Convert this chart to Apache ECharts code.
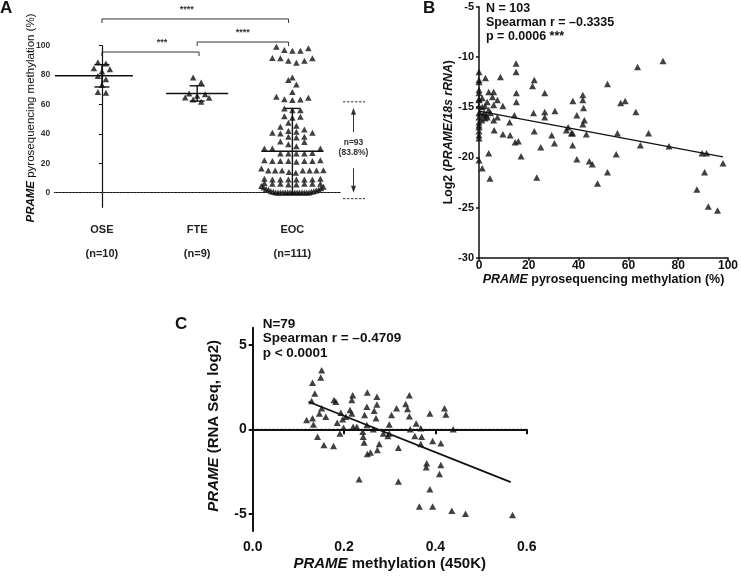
<!DOCTYPE html>
<html><head><meta charset="utf-8">
<script src="https://cdn.jsdelivr.net/npm/echarts@6/dist/echarts.min.js"></script>
<style>html,body{margin:0;padding:0;background:#fff}#c{width:741px;height:576px}</style>
</head><body><div id="c"></div>
<script>
// ---------- Panel A data ----------
const groups = ['OSE', 'FTE', 'EOC'];
const groupN = ['(n=10)', '(n=9)', '(n=111)'];
const oseValues = [87.8, 88.7, 83.9, 84.6, 82.5, 79.3, 77.1, 73.2, 67.9, 68.4];
const fteValues = [78.4, 75.0, 67.5, 65.9, 64.5, 64.8, 66.9, 61.8, 63.4];
const eocValues = [99.3, 98.2, 97, 96.6, 96.6,
  91.6, 91.4, 91.4, 89.8, 89.8, 88.4,
  78.4, 76.6, 73.6, 68.4, 65.2, 64.5, 63.6,
  63.4, 63, 57.3, 56, 56, 52, 51.6, 51, 47.5, 45.5, 44.8,
  43, 42, 41.4, 40.7, 40.7, 40.2, 38, 38, 37.5,
  34.8, 34.5, 33, 31.6, 30, 30, 30,
  27, 26.6, 26.6, 26.6, 26.6,
  22, 22, 21.6, 21.6, 21.6, 21.6, 21.6, 21,
  16.4, 15.2, 15, 15, 15, 15, 15, 15,
  14, 13.5,
  9.5, 9, 9, 9, 9, 9, 9, 9.5,
  6.5, 6, 6, 6, 6, 6, 5.5, 5.5,
  4.5, 4, 3.5, 3, 2.5, 2, 2, 1.5, 1, 1, 0.5, 0.5,
  0, 0, 0, 0, 0, 0, 0, 0, 0, 0, 0, 0, 0, 0, 0];
const groupMean = [79.5, 67.5, 28.2];
const groupSD = [7.6, 5.2, 29.1];
const yTicksA = [0, 20, 40, 60, 80, 100];
const bracketFrom = [0, 0, 1.0];
const bracketTo = [1.96, 1.02, 1.96];
const bracketLevel = [118.2, 95.7, 102.5];
const bracketTextX = [0.89, 0.63, 1.48];
const bracketStars = ['****', '***', '****'];
const annotRange = [61.8, -4.1];
const annotText = ['n=93', '(83.8%)'];

// ---------- Panel B data ----------
const bMeth = [14.9,14.9,63.7,73.9,51.6,22.2,21.5,26.4,15.0,15.0,
  37.7,41.7,41.7,42.0,42.3,41.7,39.3,56.9,58.7,63.0,
  21.9,26.4,26.4,30.5,22.2,35.8,35.1,37.1,37.6,29.2,
  43.1,55.6,68.1,30.3,37.6,64.8,76.3,24.8,16.9,39.3,
  55.1,44.3,45.5,51.6,23.2,47.6,89.6,91.4,98.0,90.6,
  87.5,92.1,95.8,
  0,0,2.6,0,0,0,0,0,0,0,
  0,0,0,0,1.3,3.9,4.4,3.9,5.4,5.9,
  7.4,8.6,9.6,5.9,7.4,5.9,6.1,9.6,12.5,12.3,
  14.2,14.5,15.8,1.3,2.4,3.3,3.9,1.7,2.4,1.1,
  3.0,1.3,4.6,2.1,0,0.4,3.3,0,0,0];
const bExpr = [-10.65,-11.5,-11.0,-10.4,-12.7,-12.3,-12.9,-13.6,-13.6,-14.5,
  -14.4,-13.8,-14.3,-15.1,-16.3,-16.7,-15.8,-14.6,-14.4,-15.5,
  -15.6,-15.5,-16.0,-15.4,-17.4,-17.0,-17.3,-17.6,-17.6,-17.8,
  -17.7,-17.6,-17.6,-18.6,-18.8,-18.8,-18.9,-19.0,-19.9,-20.2,
  -19.7,-20.4,-20.7,-21.5,-22.0,-22.6,-19.6,-19.6,-20.6,-21.5,
  -23.2,-24.9,-25.3,
  -11.5,-12.3,-12.1,-13.3,-13.6,-14.2,-14.9,-15.6,-16.0,-16.5,
  -17.0,-17.8,-18.1,-20.3,-21.1,-19.6,-22.1,-13.5,-14.0,-13.5,
  -14.3,-12.0,-14.9,-14.8,-16.0,-16.3,-17.3,-17.7,-17.8,-16.5,
  -15.8,-18.5,-18.4,-14.1,-14.9,-14.5,-15.3,-15.8,-16.1,-16.3,
  -15.8,-15.0,-15.6,-15.6,-17.4,-15.6,-16.0,-14.3,-16.8,-12.5];
const fitB = [[0, -15.4], [98, -19.95]];
const statsB = ['N = 103', 'Spearman r = \u20130.3335', 'p = 0.0006 ***'];

// ---------- Panel C data ----------
const cMeth = [0.118,0.131,0.131,0.129,0.136,0.133,0.149,0.151,0.142,0.146,
  0.151,0.160,0.156,0.177,0.178,0.182,0.185,0.191,0.193,0.197,
  0.199,0.204,0.213,0.217,0.219,0.217,0.220,0.228,0.241,0.242,
  0.244,0.245,0.250,0.251,0.250,0.251,0.258,0.264,0.266,0.272,
  0.272,0.270,0.273,0.277,0.233,0.286,0.296,0.299,0.304,0.299,
  0.315,0.319,0.319,0.335,0.339,0.343,0.343,0.345,0.358,0.355,
  0.368,0.370,0.368,0.365,0.388,0.394,0.394,0.380,0.381,0.388,
  0.409,0.412,0.412,0.420,0.423,0.439,0.436,0.466,0.569];
const cExpr = [0.55,0.65,2.75,1.67,2.12,0.29,3.06,3.49,-0.43,0.94,
  1.24,0.75,-0.92,-0.98,1.73,1.63,0.39,-0.24,0.98,0.59,
  0.10,0.75,1.14,0.94,2.02,1.73,0.16,0.16,-0.14,-0.43,
  -0.78,0.84,1.33,2.18,0.25,-1.45,-1.37,0.0,1.10,1.92,
  1.47,0.65,-1.22,-0.86,-2.94,-0.24,-0.39,0.29,0.84,-0.24,
  1.24,-1.08,-3.08,1.49,1.20,2.02,0.78,0.0,0.35,-0.39,
  0.06,-0.43,-0.86,-4.55,0.94,-0.69,-4.55,-2.24,-2.00,-3.53,
  -2.63,-2.10,-0.82,1.24,0.88,0.0,-4.80,-4.98,-5.06];
const fitC = [[0.122, 1.63], [0.565, -3.12]];
const statsC = ['N=79', 'Spearman r = \u20130.4709', 'p < 0.0001'];
const yTicksC = [-5, 0, 5];

// ---------- layout / style ----------
const FONT = '"Liberation Sans", Arial, Helvetica, sans-serif';
const INK = '#111';
const GA = {left: 54.3, top: 45.7, width: 285.7, height: 161.6};
const GB = {left: 479, top: 6.7, width: 252.7, height: 251};
const GC = {left: 252.7, top: 327.7, width: 274, height: 203.3};
const pxPerCat = GA.width / 3;
const MEAN_HALF = [[47, 31], [31, 31], [31, 31]];
const ROW_UNITS = 3.5, FLOOR_ROW_UNITS = 5, ROW_SPACING = 8, ROW_MAX = 62;

function swarm(vals, gi) {
  const s = vals.slice().sort((a, b) => a - b);
  const rows = []; let cur = [];
  for (const v of s) {
    const thr = (cur.length && cur[0] <= 0.5) ? FLOOR_ROW_UNITS : ROW_UNITS;
    if (cur.length && v - cur[0] >= thr) { rows.push(cur); cur = []; }
    cur.push(v);
  }
  if (cur.length) rows.push(cur);
  const out = [];
  for (const row of rows) {
    const n = row.length;
    const sp = n > 1 ? Math.min(ROW_SPACING, ROW_MAX / (n - 1)) : 0;
    const pos = [];
    for (let j = 0; j < n; j++) pos.push((j - (n - 1) / 2) * sp);
    const order = pos.map((p, j) => j).sort((a, b) => Math.abs(pos[a]) - Math.abs(pos[b]) || pos[b] - pos[a]);
    row.forEach((v, k) => out.push([gi + pos[order[k]] / pxPerCat, v]));
  }
  return out;
}
const swarmData = [].concat(swarm(oseValues, 0), swarm(fteValues, 1), swarm(eocValues, 2));

const zip = (a, b) => a.map((v, i) => [v, b[i]]);

function statText(lines, x, y0, dy, size) {
  return lines.map((t, i) => ({
    type: 'text', left: x, top: y0 + i * dy - size * 0.6,
    style: {text: t, font: 'bold ' + size + 'px ' + FONT, fill: INK}
  }));
}

const chart = echarts.init(document.getElementById('c'), null, {renderer: 'canvas'});
const axisLine = (w) => ({show: true, lineStyle: {color: INK, width: w}});
const richName = (size, bold) => ({
  fontFamily: FONT, fontSize: size, fontWeight: bold ? 'bold' : 'normal', color: INK,
  rich: {i: {fontFamily: FONT, fontSize: size, fontWeight: 'bold', fontStyle: 'italic', color: INK}}
});

chart.setOption({
  animation: false,
  backgroundColor: '#fff',
  grid: [
    Object.assign({}, GA),
    Object.assign({}, GB),
    Object.assign({}, GC)
  ],
  xAxis: [
    {type: 'category', gridIndex: 0, data: groups, boundaryGap: true,
      axisLine: axisLine(1.2), axisTick: {alignWithLabel: true, length: 3, lineStyle: {color: INK}},
      axisLabel: {interval: 0, margin: 17, fontFamily: FONT, fontSize: 11, fontWeight: 'bold', color: '#222', lineHeight: 12,
        formatter: (v, i) => v + '\n\n' + groupN[i]},
      splitLine: {show: false}},
    {type: 'value', gridIndex: 0, min: -0.5, max: 2.5, show: false},
    {type: 'value', gridIndex: 1, min: 0, max: 100, interval: 20,
      axisLine: axisLine(1.5), axisTick: {length: 3, lineStyle: {color: INK, width: 1.5}},
      axisLabel: {margin: 2, fontFamily: FONT, fontSize: 12, fontWeight: 'bold', color: INK},
      splitLine: {show: false},
      name: '{i|PRAME} pyrosequencing methylation (%)', nameLocation: 'middle', nameGap: 12,
      nameTextStyle: richName(12.5, true)},
    {type: 'value', gridIndex: 2, min: 0, max: 0.6, interval: 0.2,
      axisLine: axisLine(2), axisTick: {length: 5, lineStyle: {color: INK, width: 2}},
      axisLabel: {margin: 9, fontFamily: FONT, fontSize: 14, fontWeight: 'bold', color: INK, formatter: v => v.toFixed(1)},
      splitLine: {show: false},
      name: '{i|PRAME} methylation (450K)', nameLocation: 'middle', nameGap: 25,
      nameTextStyle: richName(15, true)}
  ],
  yAxis: [
    {type: 'value', gridIndex: 0, min: -10, max: 100,
      axisLine: axisLine(1.2),
      axisTick: {show: true, length: 3, customValues: yTicksA, lineStyle: {color: INK}},
      axisLabel: {customValues: yTicksA, margin: 4, fontFamily: FONT, fontSize: 8.5, fontWeight: 'bold', color: '#333'},
      splitLine: {show: false},
      name: '{i|PRAME} pyrosequencing methylation (%)', nameLocation: 'middle', nameGap: 17.5,
      nameMoveOverlap: false,
      nameTextStyle: Object.assign(richName(11.5, false), {padding: [0, 0, 0, 17]})},
    {type: 'value', gridIndex: 1, min: -30, max: -5, interval: 5,
      axisLine: axisLine(1.5), axisTick: {length: 3, lineStyle: {color: INK, width: 1.5}},
      axisLabel: {margin: 5, fontFamily: FONT, fontSize: 11, fontWeight: 'bold', color: INK},
      splitLine: {show: false},
      name: '{n|Log2 (}{i|PRAME/18s rRNA}{n|)}', nameLocation: 'middle', nameGap: 21,
      nameTextStyle: Object.assign(richName(12.3, true), {rich: {
        i: {fontFamily: FONT, fontSize: 12.3, fontWeight: 'bold', fontStyle: 'italic', color: INK},
        n: {fontFamily: FONT, fontSize: 12.3, fontWeight: 'bold', color: INK}}})},
    {type: 'value', gridIndex: 2, min: -6, max: 6,
      axisLine: axisLine(2),
      axisTick: {show: true, length: 4, customValues: yTicksC, lineStyle: {color: INK, width: 2}},
      axisLabel: {customValues: yTicksC, margin: 6, fontFamily: FONT, fontSize: 14, fontWeight: 'bold', color: INK},
      splitLine: {show: false},
      name: '{i|PRAME} (RNA Seq, log2)', nameLocation: 'middle', nameGap: 31,
      nameTextStyle: Object.assign(richName(15, true), {padding: [0, 0, 0, 7]})}
  ],
  series: [
    {type: 'scatter', xAxisIndex: 1, yAxisIndex: 0, data: swarmData, symbol: 'triangle', symbolSize: [6.5, 6],
      itemStyle: {color: INK}, z: 3,
      markLine: {silent: true, symbol: 'none', label: {show: false}, animation: false,
        lineStyle: {type: [1.2, 2.2], color: '#555', width: 1}, data: [{yAxis: 0}]}},
    {type: 'custom', xAxisIndex: 1, yAxisIndex: 0, clip: false, z: 5,
      data: groups.map((g, i) => [i, groupMean[i], groupSD[i]]),
      renderItem(params, api) {
        const i = params.dataIndex, m = api.value(1), sd = api.value(2);
        const c = api.coord([i, m]), hi = api.coord([i, m + sd]), lo = api.coord([i, m - sd]);
        const h = MEAN_HALF[i];
        const st = {stroke: INK, lineWidth: 1.4};
        return {type: 'group', children: [
          {type: 'line', shape: {x1: c[0] - h[0], y1: c[1], x2: c[0] + h[1], y2: c[1]}, style: st},
          {type: 'line', shape: {x1: c[0], y1: hi[1], x2: c[0], y2: lo[1]}, style: st},
          {type: 'line', shape: {x1: c[0] - 7.5, y1: hi[1], x2: c[0] + 7.5, y2: hi[1]}, style: st},
          {type: 'line', shape: {x1: c[0] - 7.5, y1: lo[1], x2: c[0] + 7.5, y2: lo[1]}, style: st}
        ]};
      }},
    {type: 'custom', xAxisIndex: 1, yAxisIndex: 0, clip: false, z: 5,
      data: bracketLevel.map((l, i) => [bracketFrom[i], l]),
      renderItem(params, api) {
        const i = params.dataIndex;
        const a = api.coord([bracketFrom[i], bracketLevel[i]]);
        const b = api.coord([bracketTo[i], bracketLevel[i]]);
        const t = api.coord([bracketTextX[i], bracketLevel[i]]);
        const st = {stroke: '#333', lineWidth: 1};
        return {type: 'group', children: [
          {type: 'polyline', shape: {points: [[a[0], a[1] + 4], [a[0], a[1]], [b[0], b[1]], [b[0], b[1] + 4]]}, style: Object.assign({fill: null}, st)},
          {type: 'text', style: {x: t[0], y: a[1] - 5, text: bracketStars[i], fill: '#333', font: 'bold 9px ' + FONT, align: 'center', verticalAlign: 'bottom'}}
        ]};
      }},
    {type: 'custom', xAxisIndex: 1, yAxisIndex: 0, clip: false, z: 5,
      data: [[2.5, annotRange[0]]],
      renderItem(params, api) {
        const top = api.coord([2.5, annotRange[0]]), bot = api.coord([2.5, annotRange[1]]);
        const x0 = top[0];
        const ax = x0 + 13.5;
        const mid = (top[1] + bot[1]) / 2 - 3;
        const dash = {stroke: '#333', lineWidth: 1, lineDash: [2.5, 1.5]};
        const ln = {stroke: '#333', lineWidth: 1};
        const headUpY = top[1] + 6, headDnY = bot[1] - 6;
        return {type: 'group', children: [
          {type: 'line', shape: {x1: x0 + 3, y1: top[1], x2: x0 + 25, y2: top[1]}, style: dash},
          {type: 'line', shape: {x1: x0 + 3, y1: bot[1], x2: x0 + 25, y2: bot[1]}, style: dash},
          {type: 'line', shape: {x1: ax, y1: mid - 15, x2: ax, y2: headUpY + 5}, style: ln},
          {type: 'polygon', shape: {points: [[ax, headUpY], [ax - 2.5, headUpY + 7], [ax + 2.5, headUpY + 7]]}, style: {fill: '#333'}},
          {type: 'line', shape: {x1: ax, y1: mid + 21, x2: ax, y2: headDnY - 5}, style: ln},
          {type: 'polygon', shape: {points: [[ax, headDnY], [ax - 2.5, headDnY - 7], [ax + 2.5, headDnY - 7]]}, style: {fill: '#333'}},
          {type: 'text', style: {x: ax, y: mid - 5, text: annotText[0], fill: '#333', font: 'bold 8.5px ' + FONT, align: 'center', verticalAlign: 'middle'}},
          {type: 'text', style: {x: ax, y: mid + 5.5, text: annotText[1], fill: '#333', font: 'bold 8.5px ' + FONT, align: 'center', verticalAlign: 'middle'}}
        ]};
      }},
    {type: 'scatter', xAxisIndex: 2, yAxisIndex: 1, data: zip(bMeth, bExpr), symbol: 'triangle', symbolSize: [7, 6.5],
      itemStyle: {color: INK}, clip: false},
    {type: 'line', xAxisIndex: 2, yAxisIndex: 1, data: fitB, symbol: 'none', lineStyle: {color: INK, width: 1.3}, z: 4},
    {type: 'scatter', xAxisIndex: 3, yAxisIndex: 2, data: zip(cMeth, cExpr), symbol: 'triangle', symbolSize: [7, 6.5],
      itemStyle: {color: INK}, clip: false,
      markLine: {silent: true, symbol: 'none', label: {show: false}, animation: false,
        lineStyle: {type: [1.5, 2.5], color: INK, width: 1.3}, data: [{yAxis: 0}]}},
    {type: 'line', xAxisIndex: 3, yAxisIndex: 2, data: fitC, symbol: 'none', lineStyle: {color: INK, width: 1.8}, z: 4}
  ],
  graphic: [
    {type: 'text', left: 0, top: 0, style: {text: 'A', font: 'bold 17px ' + FONT, fill: INK}},
    {type: 'text', left: 423, top: 0, style: {text: 'B', font: 'bold 17px ' + FONT, fill: INK}},
    {type: 'text', left: 175, top: 316, style: {text: 'C', font: 'bold 17px ' + FONT, fill: INK}}
  ].concat(statText(statsB, 486, 10, 14, 12.5), statText(statsC, 262.7, 325, 14.5, 13.5))
});
</script>
</body></html>
